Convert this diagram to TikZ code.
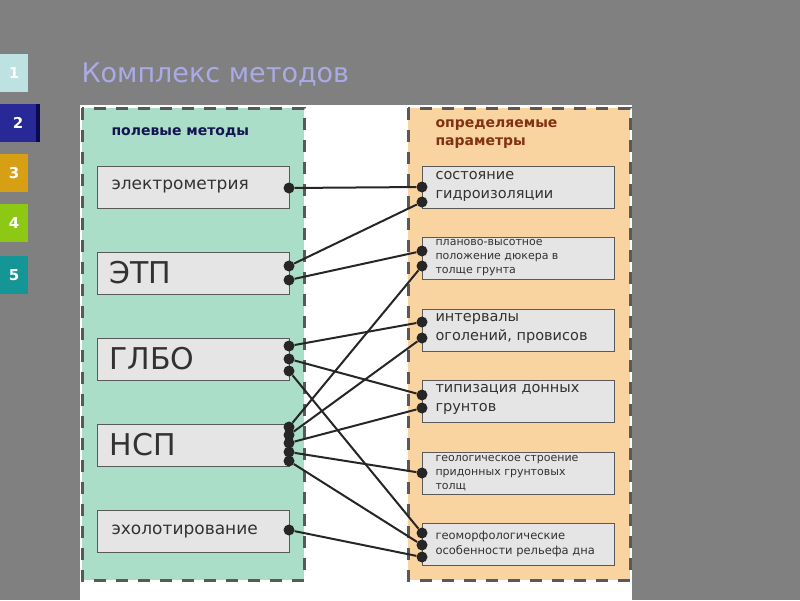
\documentclass[tikz,border=0pt]{standalone}
\usepackage{fontspec}
\setmainfont{DejaVu Sans}
\definecolor{titlec}{RGB}{170,170,230}
\definecolor{greenp}{RGB}{170,222,200}
\definecolor{orangep}{RGB}{250,212,160}
\definecolor{navy}{RGB}{20,20,80}
\definecolor{brownh}{RGB}{130,50,20}
\definecolor{bg}{RGB}{128,128,128}
\definecolor{c1}{RGB}{190,225,225}
\definecolor{c2}{RGB}{40,40,150}
\definecolor{c2d}{RGB}{10,10,80}
\definecolor{c3}{RGB}{215,160,20}
\definecolor{c4}{RGB}{140,200,20}
\definecolor{c5}{RGB}{20,150,150}
\definecolor{txt}{RGB}{50,50,50}
\begin{document}
\begin{tikzpicture}[x=1pt,y=-1pt,
 box/.style={draw=gray!70!black,fill=gray!20,line width=0.8pt,anchor=north west,minimum width=192pt,minimum height=42pt,inner sep=0pt},
 tile/.style={anchor=north west,minimum width=28pt,minimum height=38pt,inner sep=0pt,text=white,font=\bfseries\fontsize{15}{15}\selectfont},
 dot/.style={circle,fill=black!85,inner sep=0pt,minimum size=11pt},
 con/.style={line width=2pt,black!85},
 lbl/.style={anchor=west,align=left,text=txt},
 panel/.style={draw=gray!70!black,line width=3pt,dash pattern=on 12pt off 10pt}]
\fill[bg] (0,0) rectangle (800,600);
\useasboundingbox (0,0) rectangle (800,600);
\node[tile,fill=c1] (t1) at (0,54) {1};
\node[tile,fill=c2,minimum width=36pt] (t2) at (0,104) {2};
\fill[c2d] (36,104) rectangle (40,142);
\node[tile,fill=c3] (t3) at (0,154) {3};
\node[tile,fill=c4] (t4) at (0,204) {4};
\node[tile,fill=c5] (t5) at (0,256) {5};
\node[anchor=west,text=titlec,font=\fontsize{27}{27}\selectfont] (title) at (78,75) {Комплекс методов};
\fill[white] (80,105) rectangle (632,600);
\fill[greenp] (82,108) rectangle (304,580);
\fill[orangep] (408,108) rectangle (630,580);
\draw[panel] (82,108) rectangle (304,580);
\draw[panel] (408,108) rectangle (630,580);
\node[anchor=west,font=\bfseries\fontsize{14}{14}\selectfont,text=navy] (lh) at (108,133) {полевые методы};
\node[anchor=north west,align=left,font=\bfseries\fontsize{14}{18}\selectfont,text=brownh] (rh) at (432,116) {определяемые\\параметры};
% left boxes
\node[box] (l1) at (97,166) {}; \node[lbl,font=\fontsize{17}{17}\selectfont] (l1t) at (108,187) {электрометрия};
\node[box] (l2) at (97,252) {}; \node[lbl,font=\fontsize{30}{30}\selectfont] (l2t) at (106,273) {ЭТП};
\node[box] (l3) at (97,338) {}; \node[lbl,font=\fontsize{30}{30}\selectfont] (l3t) at (106,359) {ГЛБО};
\node[box] (l4) at (97,424) {}; \node[lbl,font=\fontsize{30}{30}\selectfont] (l4t) at (106,445) {НСП};
\node[box] (l5) at (97,510) {}; \node[lbl,font=\fontsize{17}{17}\selectfont] (l5t) at (108,531) {эхолотирование};
% right boxes
\node[box] (r1) at (422,166) {}; \node[lbl,font=\fontsize{14.5}{19}\selectfont] (r1t) at (432,186) {состояние\\гидроизоляции};
\node[box] (r2) at (422,237) {}; \node[lbl,font=\fontsize{11}{14}\selectfont] (r2t) at (432,258) {планово-высотное\\положение дюкера в\\толще грунта};
\node[box] (r3) at (422,309) {}; \node[lbl,font=\fontsize{14.5}{19}\selectfont] (r3t) at (432,328) {интервалы\\оголений, провисов};
\node[box] (r4) at (422,380) {}; \node[lbl,font=\fontsize{14.5}{19}\selectfont] (r4t) at (432,399) {типизация донных\\грунтов};
\node[box] (r5) at (422,452) {}; \node[lbl,font=\fontsize{11}{14}\selectfont] (r5t) at (432,473) {геологическое строение\\придонных грунтовых\\толщ};
\node[box] (r6) at (422,523) {}; \node[lbl,font=\fontsize{11.5}{15}\selectfont] (r6t) at (432,544) {геоморфологические\\особенности рельефа дна};
% dots
\foreach \n/\y in {a/188,b1/266,b2/280,c1/346,c2/359,c3/371,d1/427,d2/435,d3/443,d4/452,d5/461,e/530}
  \node[dot] (L\n) at (289,\y) {};
\foreach \n/\y in {a1/187,a2/202,b1/251,b2/266,c1/322,c2/338,d1/395,d2/408,e/473,f1/533,f2/545,f3/557}
  \node[dot] (R\n) at (422,\y) {};
\draw[con] (La)--(Ra1);
\draw[con] (Lb1)--(Ra2);
\draw[con] (Lb2)--(Rb1);
\draw[con] (Lc1)--(Rc1);
\draw[con] (Lc2)--(Rd1);
\draw[con] (Lc3)--(Rf1);
\draw[con] (Ld1)--(Rb2);
\draw[con] (Ld2)--(Rc2);
\draw[con] (Ld3)--(Rd2);
\draw[con] (Ld4)--(Re);
\draw[con] (Ld5)--(Rf2);
\draw[con] (Le)--(Rf3);
\end{tikzpicture}
\end{document}
